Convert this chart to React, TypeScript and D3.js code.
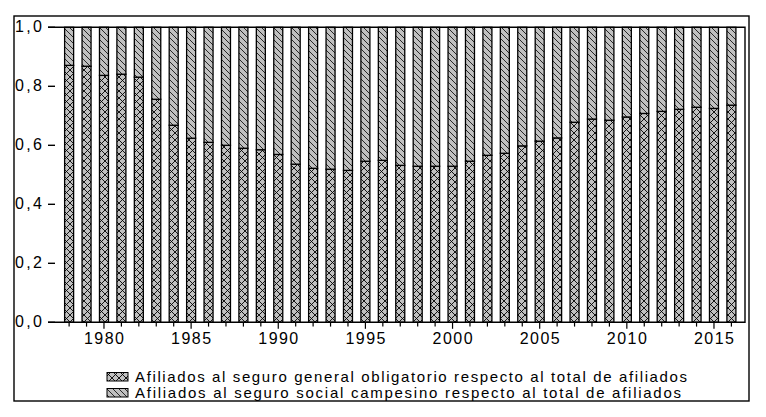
import React from "react";
import * as d3 from "d3";

const years = [1978,1979,1980,1981,1982,1983,1984,1985,1986,1987,1988,1989,1990,1991,1992,1993,1994,1995,1996,1997,1998,1999,2000,2001,2002,2003,2004,2005,2006,2007,2008,2009,2010,2011,2012,2013,2014,2015,2016];
const general = [0.871,0.868,0.837,0.841,0.831,0.756,0.668,0.624,0.610,0.600,0.590,0.585,0.569,0.536,0.522,0.519,0.515,0.546,0.549,0.532,0.529,0.529,0.529,0.546,0.566,0.573,0.598,0.614,0.625,0.678,0.689,0.685,0.696,0.708,0.715,0.722,0.729,0.725,0.736];
const campesino = [0.129,0.132,0.163,0.159,0.169,0.244,0.332,0.376,0.390,0.400,0.410,0.415,0.431,0.464,0.478,0.481,0.485,0.454,0.451,0.468,0.471,0.471,0.471,0.454,0.434,0.427,0.402,0.386,0.375,0.322,0.311,0.315,0.304,0.292,0.285,0.278,0.271,0.275,0.264];
const yTicks = [0, 0.2, 0.4, 0.6, 0.8, 1.0];
const yTickLabels = ["0,0", "0,2", "0,4", "0,6", "0,8", "1,0"];
const xLabelYears = [1980, 1985, 1990, 1995, 2000, 2005, 2010, 2015];
const seriesNames = [
  "Afiliados al seguro general obligatorio respecto al total de afiliados",
  "Afiliados al seguro social campesino respecto al total de afiliados",
];
const seriesKeys = ["general", "campesino"];

const FONT = "'Liberation Sans', Arial, sans-serif";

export default function App() {
  const table = years.map((y, i) => ({ year: y, general: general[i], campesino: campesino[i] }));
  const stack = d3.stack<any>().keys(seriesKeys)(table);

  const x = d3.scaleLinear().domain([1977.19, 2016.78]).range([55, 745]);
  const y = d3.scaleLinear().domain([0, 1]).range([322.3, 27.3]);
  const barW = 9;
  const patterns = ["pCross", "pDiag"];

  return (
    <svg width={766} height={417} style={{ position: "absolute", left: 0, top: 0, background: "#fff" }}>
      <defs>
        <pattern id="pCross" patternUnits="userSpaceOnUse" width={7} height={7}>
          <rect width={7} height={7} fill="#c0c0c0" />
          <path d="M-1,-1 L8,8 M8,-1 L-1,8" stroke="#000" strokeWidth={0.9} />
        </pattern>
        <pattern id="pDiag" patternUnits="userSpaceOnUse" width={6} height={6}>
          <rect width={6} height={6} fill="#c0c0c0" />
          <path d="M-1,-1 L7,7" stroke="#000" strokeWidth={0.8} />
        </pattern>
      </defs>

      {/* outer frame */}
      <rect x={14} y={16} width={735} height={385} fill="none" stroke="#000" strokeWidth={1.4} />

      {/* bars */}
      {stack.map((s, si) => (
        <g key={si}>
          {s.map((d, i) => (
            <rect
              key={i}
              x={x(years[i]) - barW / 2}
              y={y(d[1])}
              width={barW}
              height={y(d[0]) - y(d[1])}
              fill={`url(#${patterns[si]})`}
              stroke="#000"
              strokeWidth={1.3}
            />
          ))}
        </g>
      ))}

      {/* plot frame: top, right, bottom */}
      <path
        d={`M48,${y(1)} H745 V${y(0)} H48`}
        fill="none"
        stroke="#000"
        strokeWidth={1.4}
      />

      {/* y ticks and labels */}
      {yTicks.map((t, i) => (
        <g key={i}>
          <line x1={48} x2={55} y1={y(t)} y2={y(t)} stroke="#000" strokeWidth={1.4} />
          <text
            x={42}
            y={y(t) + 5}
            textAnchor="end"
            fontFamily={FONT}
            fontSize={16}
            textLength={27}
            lengthAdjust="spacing"
          >
            {yTickLabels[i]}
          </text>
        </g>
      ))}

      {/* x ticks */}
      {years.map((yr) => {
        const major = xLabelYears.includes(yr);
        return (
          <line
            key={yr}
            x1={x(yr)}
            x2={x(yr)}
            y1={y(0)}
            y2={y(0) + (major ? 6.5 : 4.3)}
            stroke="#000"
            strokeWidth={1.2}
          />
        );
      })}
      {xLabelYears.map((yr) => (
        <text
          key={yr}
          x={x(yr) - 20}
          y={344}
          fontFamily={FONT}
          fontSize={16}
          textLength={40}
          lengthAdjust="spacing"
        >
          {String(yr)}
        </text>
      ))}

      {/* legend */}
      {seriesNames.map((name, i) => (
        <g key={i}>
          <rect
            x={107}
            y={372.5 + i * 16}
            width={21}
            height={8.5}
            fill={`url(#${patterns[i]})`}
            stroke="#000"
            strokeWidth={1}
          />
          <text
            x={135}
            y={381.5 + i * 16}
            fontFamily={FONT}
            fontSize={15}
            textLength={i === 0 ? 552 : 546}
            lengthAdjust="spacing"
          >
            {name}
          </text>
        </g>
      ))}
    </svg>
  );
}
